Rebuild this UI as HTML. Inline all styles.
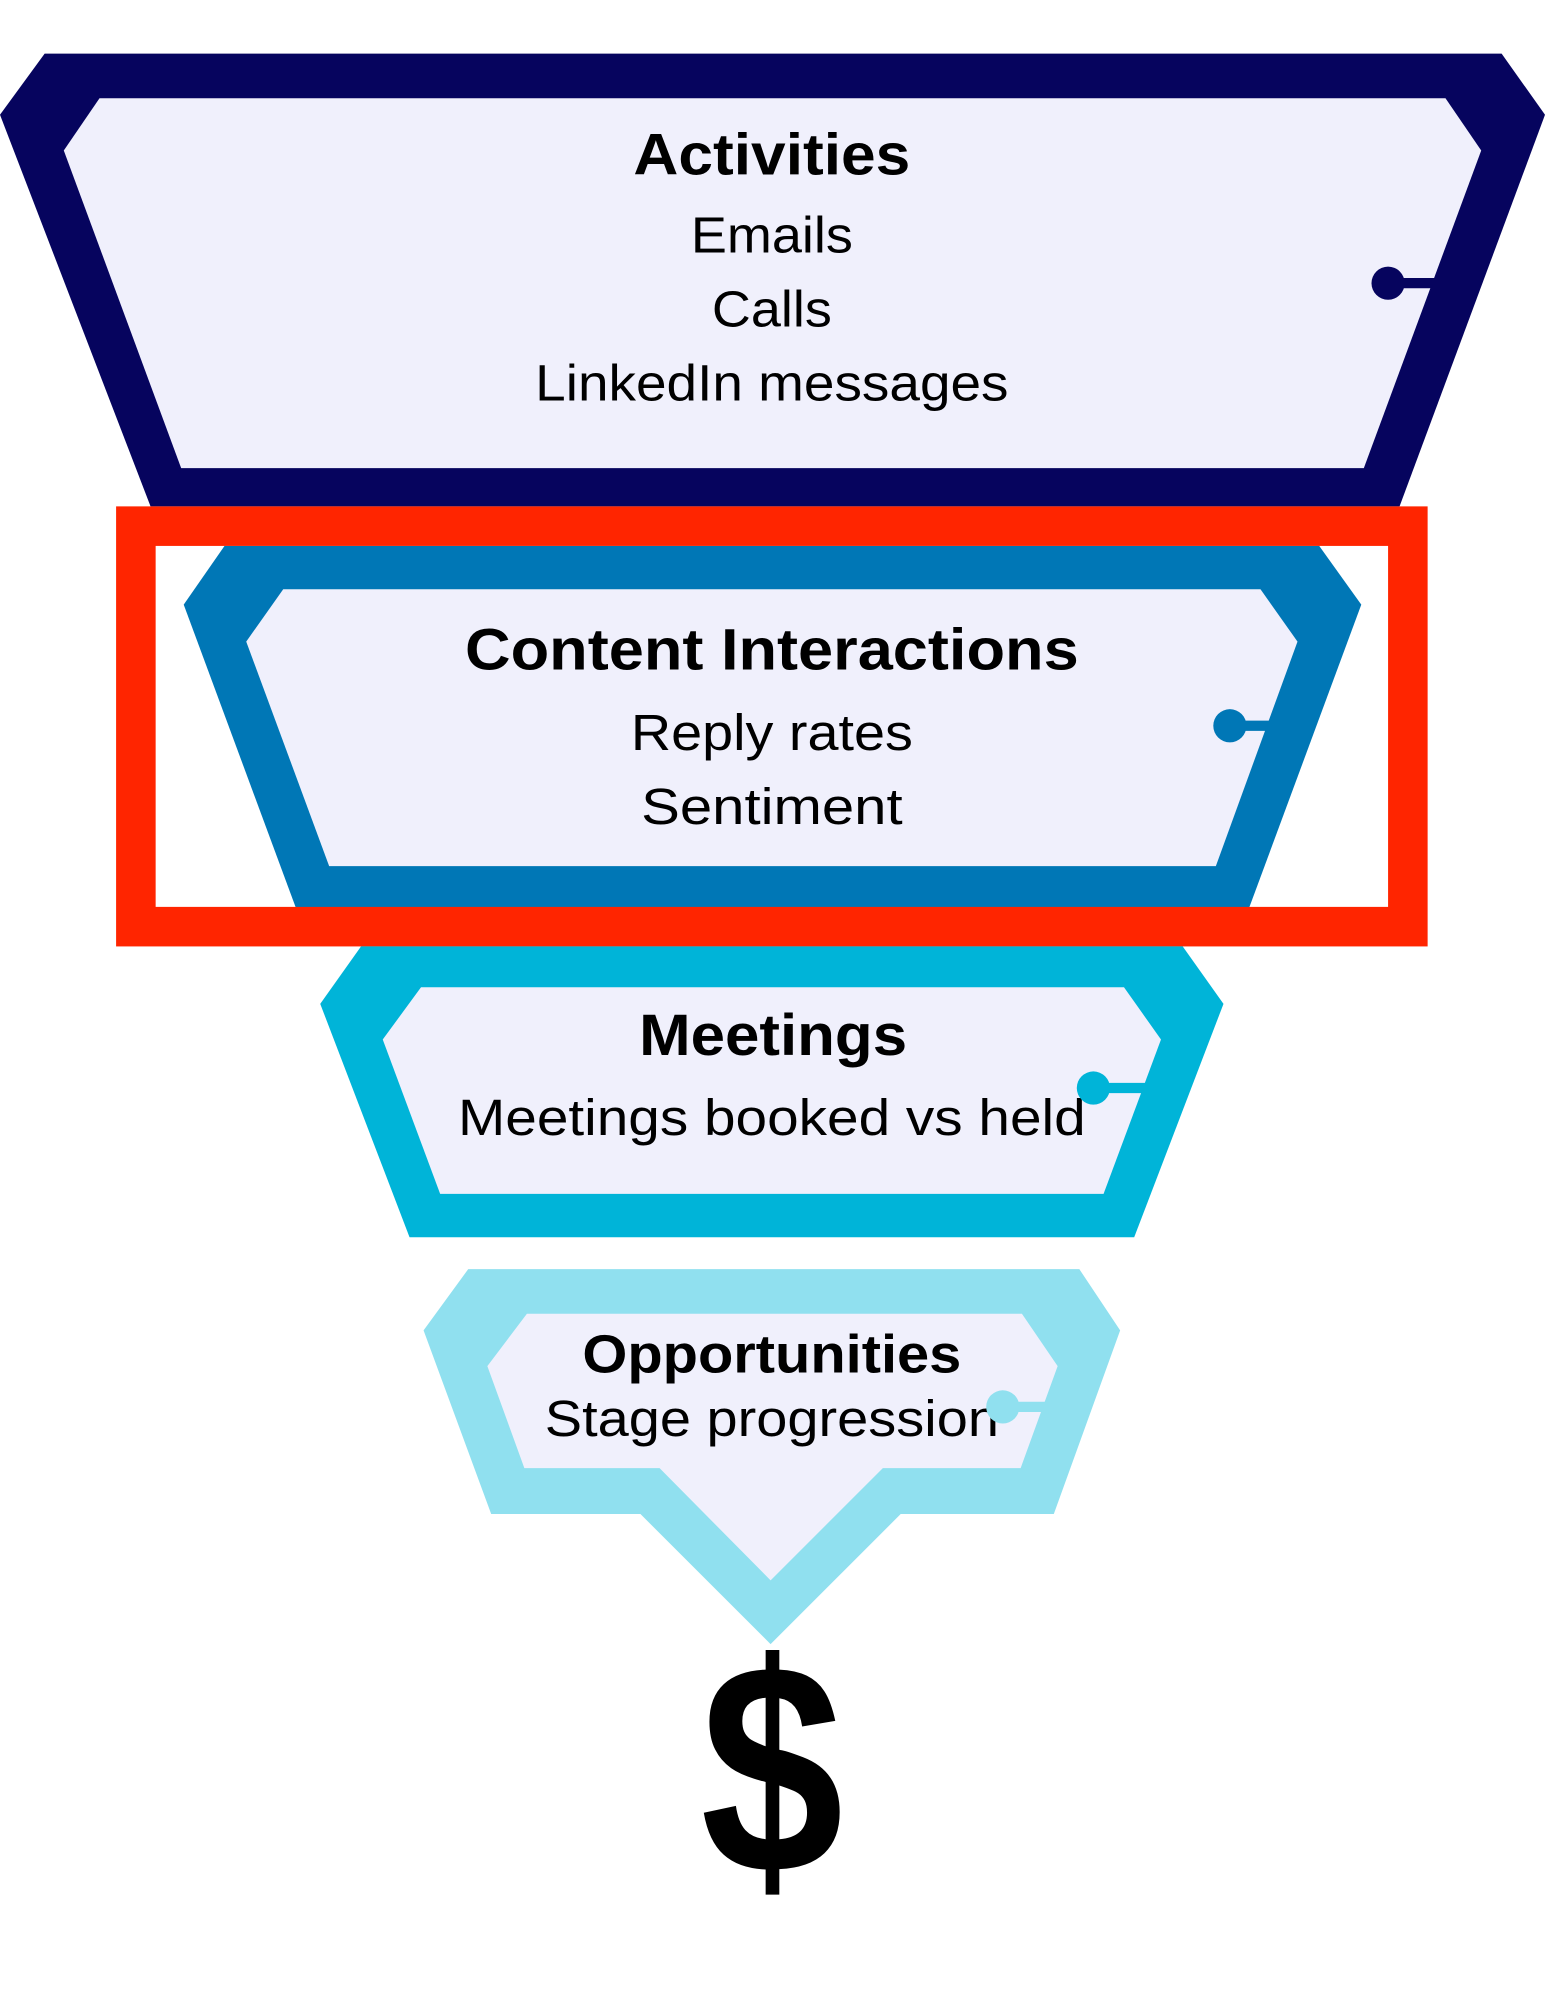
<!DOCTYPE html>
<html><head><meta charset="utf-8"><style>
html,body{margin:0;padding:0;background:#fff;width:1545px;height:2000px;overflow:hidden}
svg{display:block}
text{font-family:"Liberation Sans","DejaVu Sans",sans-serif;fill:#000;text-anchor:middle}
.b{font-weight:bold;font-size:46px}
.r{font-size:40px}
</style></head><body>
<svg width="1545" height="2000" viewBox="0 0 1211 1568" preserveAspectRatio="none" xmlns="http://www.w3.org/2000/svg">
<rect width="1211" height="1568" fill="#fff"/>
<polygon points="35,42 1177,42 1211,90 1097,397 118,397 0,90" fill="#06045e"/>
<polygon points="78,77 1133,77 1161,118 1069,367 142,367 50,118" fill="#f0f0fc"/>
<line x1="1088" y1="222" x2="1127" y2="222" stroke="#06045e" stroke-width="8"/>
<circle cx="1088" cy="222" r="13" fill="#06045e"/>
<text class="b" x="605" y="137" textLength="217" lengthAdjust="spacingAndGlyphs">Activities</text>
<text class="r" x="605" y="198" textLength="127" lengthAdjust="spacingAndGlyphs">Emails</text>
<text class="r" x="605" y="256" textLength="94" lengthAdjust="spacingAndGlyphs">Calls</text>
<text class="r" x="605" y="314" textLength="371" lengthAdjust="spacingAndGlyphs">LinkedIn messages</text>
<polygon points="176,428 1034,428 1067,474 979,712 232,712 144,474" fill="#0077b6"/>
<polygon points="222,462 988,462 1017,503 953,679 258,679 193,503" fill="#f0f0fc"/>
<line x1="964" y1="569" x2="997" y2="569" stroke="#0077b6" stroke-width="8"/>
<circle cx="964" cy="569" r="13" fill="#0077b6"/>
<text class="b" x="605" y="525" textLength="481" lengthAdjust="spacingAndGlyphs">Content Interactions</text>
<text class="r" x="605" y="588" textLength="221" lengthAdjust="spacingAndGlyphs">Reply rates</text>
<text class="r" x="605" y="646" textLength="205" lengthAdjust="spacingAndGlyphs">Sentiment</text>
<rect x="106.5" y="412.5" width="997" height="314" fill="none" stroke="#ff2500" stroke-width="31"/>
<polygon points="283,742 927,742 959,787 889,970 321,970 251,787" fill="#00b4d8"/>
<polygon points="330,774 881,774 910,815 865,936 345,936 300,815" fill="#f0f0fc"/>
<text class="b" x="606" y="827" textLength="210" lengthAdjust="spacingAndGlyphs">Meetings</text>
<text class="r" x="605" y="890" textLength="492" lengthAdjust="spacingAndGlyphs">Meetings booked vs held</text>
<line x1="857" y1="853" x2="901" y2="853" stroke="#00b4d8" stroke-width="8"/>
<circle cx="857" cy="853" r="13" fill="#00b4d8"/>
<polygon points="367,995 846,995 878,1043 826,1187 706,1187 604,1289 502,1187 385,1187 332,1043" fill="#90e0ef"/>
<polygon points="413,1030 801,1030 829,1071 800,1151 692,1151 604,1239 517,1151 411,1151 382,1071" fill="#f0f0fc"/>
<text class="b" x="605" y="1076" style="font-size:42px" textLength="297" lengthAdjust="spacingAndGlyphs">Opportunities</text>
<text class="r" x="605" y="1126" textLength="356" lengthAdjust="spacingAndGlyphs">Stage progression</text>
<line x1="786" y1="1103" x2="822" y2="1103" stroke="#90e0ef" stroke-width="8"/>
<circle cx="786" cy="1103" r="13" fill="#90e0ef"/>
<text x="605" y="1468" style="font-weight:bold;font-size:235px" textLength="112" lengthAdjust="spacingAndGlyphs">$</text>
</svg>
</body></html>
